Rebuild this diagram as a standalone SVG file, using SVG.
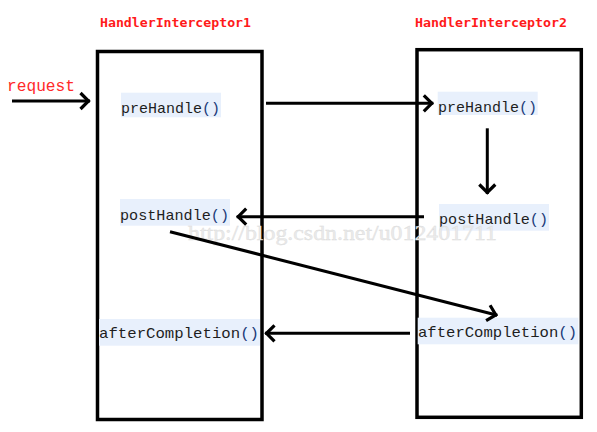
<svg xmlns="http://www.w3.org/2000/svg" width="597" height="432" viewBox="0 0 597 432">
<style>
.box{fill:none;stroke:#000;stroke-width:3.5}
.title{font-family:"DejaVu Sans Mono","Liberation Mono",monospace;font-weight:bold;font-size:13px;fill:#ff1a1a}
.hl{fill:#e8f0fc}
.m{font-family:"Liberation Mono","DejaVu Sans Mono",monospace;font-size:15px;fill:#1e1e1e}
.p{fill:#1a3a78}
.conn{stroke:#000;stroke-width:3;fill:none;marker-end:url(#chev)}
.wm{font-family:"Liberation Serif",serif;font-size:21px;fill:#ebebeb;stroke:#dadada;stroke-width:0.35}
</style>
<defs>
<marker id="chev" markerUnits="userSpaceOnUse" markerWidth="24" markerHeight="24" viewBox="-12 -12 16 24" refX="1.5" refY="0" orient="auto">
<path d="M-8,-8 L0,0 L-8,8" fill="none" stroke="#000" stroke-width="3.2" stroke-linejoin="miter"/>
</marker>
</defs>
<rect width="597" height="432" fill="#fff"/>

<g id="interceptor1">
<text class="title" x="100" y="27" textLength="151" lengthAdjust="spacingAndGlyphs">HandlerInterceptor1</text>
<rect class="box" x="97.5" y="51.5" width="164.5" height="368"/>
</g>
<g id="interceptor2">
<text class="title" x="415" y="27" textLength="152" lengthAdjust="spacingAndGlyphs">HandlerInterceptor2</text>
<rect class="box" x="417" y="49.7" width="164.3" height="367.6"/>
</g>

<g id="request">
<text x="7" y="91" font-family="Liberation Mono,monospace" font-size="16" fill="#ff2a2a" textLength="68" lengthAdjust="spacingAndGlyphs">request</text>
</g>

<g id="preHandle1">
<rect class="hl" x="121" y="92.7" width="100" height="24.6"/>
<text class="m" x="121" y="113" textLength="99" lengthAdjust="spacingAndGlyphs">preHandle<tspan class="p">()</tspan></text>
</g>
<g id="preHandle2">
<rect class="hl" x="437.7" y="91.7" width="100" height="23.3"/>
<text class="m" x="438" y="112" textLength="99" lengthAdjust="spacingAndGlyphs">preHandle<tspan class="p">()</tspan></text>
</g>
<g id="postHandle1">
<rect class="hl" x="120" y="199" width="110" height="26.7"/>
<text class="m" x="120" y="220" textLength="109" lengthAdjust="spacingAndGlyphs">postHandle<tspan class="p">()</tspan></text>
</g>
<g id="postHandle2">
<rect class="hl" x="439" y="204" width="110" height="26.7"/>
<text class="m" x="439" y="224" textLength="109" lengthAdjust="spacingAndGlyphs">postHandle<tspan class="p">()</tspan></text>
</g>
<g id="afterCompletion1">
<rect class="hl" x="99" y="319" width="161" height="26.7"/>
<text class="m" x="99" y="338" textLength="160" lengthAdjust="spacingAndGlyphs">afterCompletion<tspan class="p">()</tspan></text>
</g>
<g id="afterCompletion2">
<rect class="hl" x="417.7" y="317.7" width="160.6" height="26.6"/>
<text class="m" x="418" y="337" textLength="159" lengthAdjust="spacingAndGlyphs">afterCompletion<tspan class="p">()</tspan></text>
</g>

<text class="wm" x="188" y="240" textLength="309" lengthAdjust="spacingAndGlyphs">http://blog.csdn.net/u012401711</text>

<g id="connectors">
<line class="conn" x1="12" y1="101" x2="90" y2="101"/>
<line class="conn" x1="266" y1="103.3" x2="433.3" y2="103.3"/>
<line class="conn" x1="487.3" y1="128.3" x2="487.3" y2="194"/>
<line class="conn" x1="424" y1="216.7" x2="236.7" y2="216.7"/>
<line class="conn" x1="170" y1="231.7" x2="497.3" y2="315.3"/>
<line class="conn" x1="410" y1="333.3" x2="265" y2="333.3"/>
</g>
</svg>
